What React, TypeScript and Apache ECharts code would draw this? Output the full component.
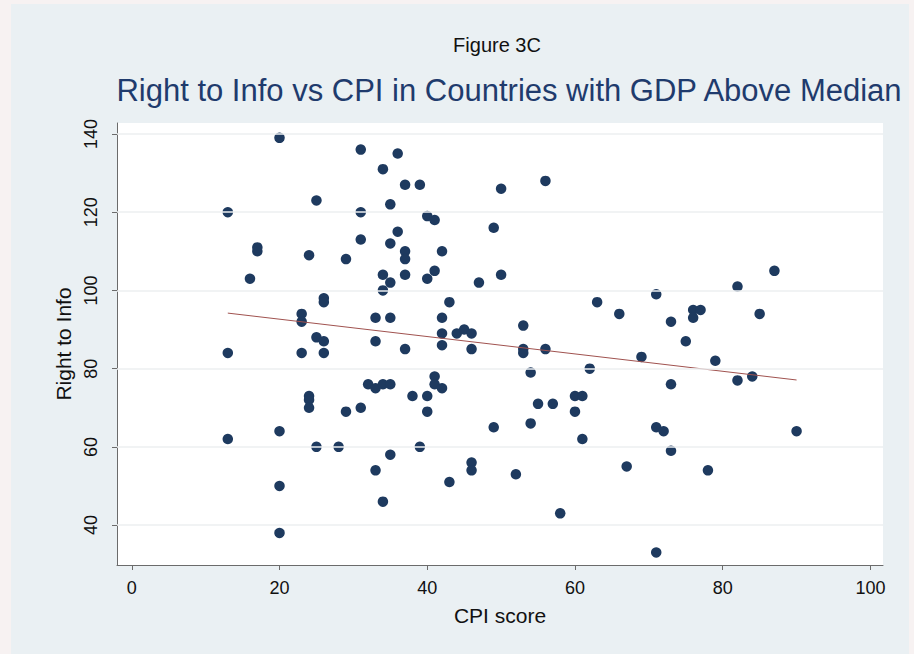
import React, { useEffect, useRef } from "react";
import * as echarts from "echarts";

const cpiScore = [
  20, 13, 17, 17, 24, 16, 23, 23, 31, 36, 34, 37, 39, 50, 25, 35, 31, 40, 41, 49,
  36, 31, 35, 37, 37, 42, 29, 50, 34, 35, 34, 37, 41, 40, 47, 26, 26, 43, 33, 35,
  42, 25, 26, 33, 42, 42, 44, 45, 46, 23, 26, 37, 46, 32, 33, 34, 35, 41, 41, 42,
  24, 24, 24, 38, 40, 40, 29, 31, 49, 25, 28, 39, 35, 33, 46, 46, 43, 34, 13, 20,
  13, 20, 20, 56, 63, 71, 82, 87, 66, 73, 76, 77, 76, 85, 53, 75, 53, 53, 56, 69,
  79, 54, 62, 73, 82, 84, 60, 61, 55, 57, 60, 54, 61, 71, 72, 73, 90, 52, 67, 78,
  58, 71,
];
const rightToInfo = [
  139, 120, 110, 111, 109, 103, 94, 92, 136, 135, 131, 127, 127, 126, 123, 122, 120, 119, 118, 116,
  115, 113, 112, 110, 108, 110, 108, 104, 104, 102, 100, 104, 105, 103, 102, 98, 97, 97, 93, 93,
  93, 88, 87, 87, 89, 86, 89, 90, 89, 84, 84, 85, 85, 76, 75, 76, 76, 78, 76, 75,
  73, 72, 70, 73, 73, 69, 69, 70, 65, 60, 60, 60, 58, 54, 56, 54, 51, 46, 84, 64,
  62, 50, 38, 128, 97, 99, 101, 105, 94, 92, 95, 95, 93, 94, 91, 87, 85, 84, 85, 83,
  82, 79, 80, 76, 77, 78, 73, 73, 71, 71, 69, 66, 62, 65, 64, 59, 64, 53, 55, 54,
  43, 33,
];
const fitX = [13, 90];
const fitY = [94.2, 77.1];
const xTicks = [0, 20, 40, 60, 80, 100];
const yTicks = [40, 60, 80, 100, 120, 140];

const FONT = "'Liberation Sans', Arial, Helvetica, sans-serif";

export default function App() {
  const ref = useRef<HTMLDivElement>(null);
  useEffect(() => {
    if (!ref.current) return;
    const chart = echarts.init(ref.current, null, { renderer: "svg" });
    const axisColor = "#6b6b6b";
    chart.setOption({
      animation: false,
      backgroundColor: "transparent",
      graphic: [
        {
          type: "text",
          x: 497,
          y: 45,
          style: {
            text: "Figure 3C",
            fontSize: 20,
            fontFamily: FONT,
            fill: "#111",
            textAlign: "center",
            textVerticalAlign: "middle",
          },
        },
        {
          type: "text",
          x: 509,
          y: 90,
          style: {
            text: "Right to Info vs CPI in Countries with GDP Above Median",
            fontSize: 31,
            fontFamily: FONT,
            fill: "#1f3b6d",
            textAlign: "center",
            textVerticalAlign: "middle",
          },
        },
      ],
      grid: {
        left: 117,
        top: 123,
        width: 766,
        height: 442,
        show: true,
        backgroundColor: "#ffffff",
        borderWidth: 0,
      },
      xAxis: {
        type: "value",
        min: -2,
        max: 101.7,
        name: "CPI score",
        nameLocation: "middle",
        nameGap: 40,
        nameTextStyle: { fontSize: 21, fontFamily: FONT, color: "#111" },
        axisLine: { show: true, onZero: false, lineStyle: { color: axisColor, width: 1 } },
        axisTick: { show: true, customValues: xTicks, length: 5, lineStyle: { color: axisColor } },
        axisLabel: { customValues: xTicks, margin: 14, fontSize: 18, fontFamily: FONT, color: "#111" },
        splitLine: { show: false },
      },
      yAxis: {
        type: "value",
        min: 29.8,
        max: 142.8,
        name: "Right to Info",
        nameLocation: "middle",
        nameRotate: 90,
        nameGap: 42,
        nameTextStyle: { fontSize: 21, fontFamily: FONT, color: "#111" },
        axisLine: { show: true, onZero: false, lineStyle: { color: axisColor, width: 1 } },
        axisTick: { show: true, customValues: yTicks, length: 5, lineStyle: { color: axisColor } },
        axisLabel: { customValues: yTicks, rotate: 90, margin: 17, fontSize: 18, fontFamily: FONT, color: "#111" },
        splitLine: { show: false },
      },
      series: [
        {
          type: "scatter",
          data: [],
          z: 1,
          silent: true,
          markLine: {
            silent: true,
            symbol: "none",
            label: { show: false },
            lineStyle: { color: "#eceff1", type: "solid", width: 1.5 },
            data: yTicks.map((v) => ({ yAxis: v })),
          },
        },
        {
          type: "scatter",
          z: 3,
          symbol: "circle",
          symbolSize: 10.5,
          itemStyle: { color: "#1e3a5f", opacity: 1 },
          data: cpiScore.map((x, i) => [x, rightToInfo[i]]),
        },
        {
          type: "line",
          z: 4,
          symbol: "none",
          lineStyle: { color: "#a0524f", width: 1 },
          data: fitX.map((x, i) => [x, fitY[i]]),
        },
      ],
    });
    return () => chart.dispose();
  }, []);

  return (
    <div style={{ position: "absolute", left: 0, top: 0, width: 914, height: 654, background: "#f7f2f2", overflow: "hidden" }}>
      <div style={{ position: "absolute", left: 11, top: 4, width: 898, height: 650, background: "#eaf0f3" }} />
      <div ref={ref} style={{ position: "absolute", left: 0, top: 0, width: 914, height: 654 }} />
    </div>
  );
}
